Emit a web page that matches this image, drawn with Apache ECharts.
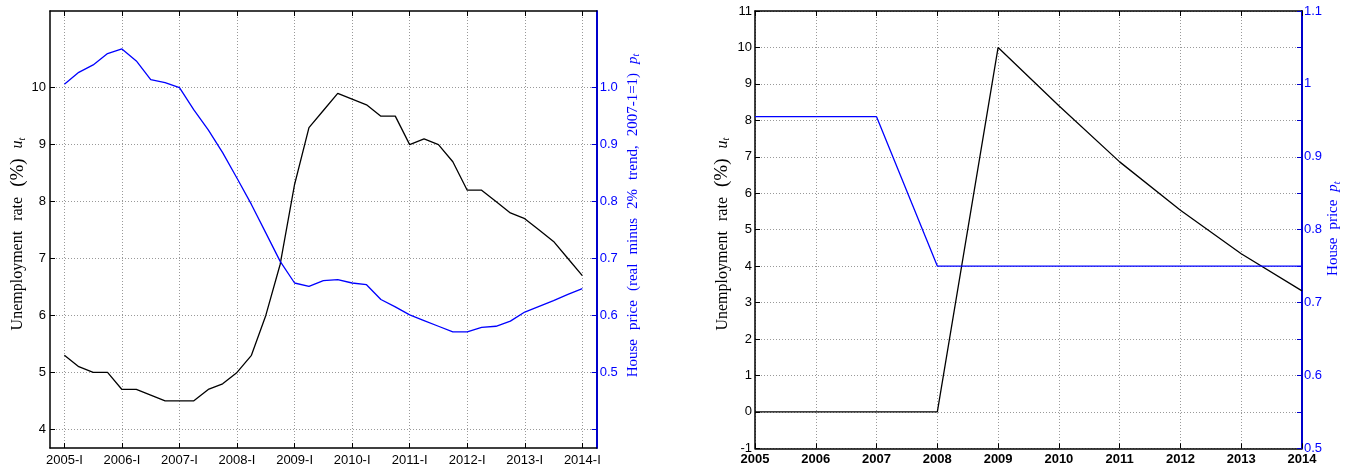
<!DOCTYPE html>
<html><head><meta charset="utf-8">
<script src="https://cdn.jsdelivr.net/npm/echarts@6/dist/echarts.min.js"></script>
<style>html,body{margin:0;padding:0;background:#fff}#c{width:1354px;height:471px}</style>
</head><body><div id="c"></div>
<script>
// ---- Left panel: data (quarterly) ----
const quarters = [
  '2005-I','2005-II','2005-III','2005-IV','2006-I','2006-II','2006-III','2006-IV',
  '2007-I','2007-II','2007-III','2007-IV','2008-I','2008-II','2008-III','2008-IV',
  '2009-I','2009-II','2009-III','2009-IV','2010-I','2010-II','2010-III','2010-IV',
  '2011-I','2011-II','2011-III','2011-IV','2012-I','2012-II','2012-III','2012-IV',
  '2013-I','2013-II','2013-III','2013-IV','2014-I'];
const unemployment = [5.3,5.1,5.0,5.0,4.7,4.7,4.6,4.5,4.5,4.5,4.7,4.8,5.0,5.3,6.0,6.9,
  8.3,9.3,9.6,9.9,9.8,9.7,9.5,9.5,9.0,9.1,9.0,8.7,8.2,8.2,8.0,7.8,7.7,7.5,7.3,7.0,6.7];
const housePrice = [1.006,1.027,1.040,1.060,1.068,1.047,1.014,1.009,1.000,0.961,0.926,0.886,
  0.841,0.795,0.745,0.695,0.657,0.651,0.661,0.663,0.657,0.654,0.628,0.615,0.601,0.591,0.581,
  0.571,0.571,0.579,0.581,0.590,0.606,0.616,0.626,0.637,0.647];
const quarterTickIdx = [0,4,8,12,16,20,24,28,32,36];
const uTicksLeft = [4,5,6,7,8,9,10];
const pTicksLeft = [0.4,0.5,0.6,0.7,0.8,0.9,1.0];
const pLabelsLeft = [0.5,0.6,0.7,0.8,0.9,1.0];

// ---- Right panel: data (annual) ----
const simYears = [2005,2006,2007,2008,2009,2010,2011,2012,2013,2014];
const simUnemployment = [0,0,0,0,10,8.4,6.86,5.53,4.34,3.32];
const simHousePrice = [0.955,0.955,0.955,0.75,0.75,0.75,0.75,0.75,0.75,0.75];

const BLUE = '#0000ff';
const SANS = 'Liberation Sans, Arial, sans-serif';
const SERIF = 'Liberation Serif, Times New Roman, serif';
const gridLine = {show:true, lineStyle:{color:'#999', type:[1,2], width:1}};
const tick = (color, vals) => ({show:true, inside:true, length:5, lineStyle:{color, width:1}, customValues: vals});
const nameRich = (color, fs, spw, pcs) => ({
  sp:{fontFamily:SERIF, fontSize:fs, color, width:spw},
  pc:{fontFamily:SERIF, fontSize:pcs, color},
  i:{fontFamily:SERIF, fontStyle:'italic', fontSize:fs, color},
  s:{fontFamily:SERIF, fontStyle:'italic', fontSize:10, color, padding:[8,0,0,0]}
});
const S = '{sp| }';
const nameStyle = (color, pad, fs, spw, pcs) => ({fontFamily:SERIF, fontSize:fs, color, rich:nameRich(color, fs, spw, pcs), padding:pad});
const uName = 'Unemployment'+S+'rate'+S+'{pc|(%)}'+S+'{i|u}{s|t}';

const option = {
  animation:false,
  backgroundColor:'#fff',
  grid:[
    {left:50, top:11, width:546.7, height:437, containLabel:false},
    {left:755, top:11, width:547, height:437.3, containLabel:false}
  ],
  xAxis:[
    {gridIndex:0, type:'value', min:-1, max:37, position:'bottom',
     axisLine:{onZero:false, lineStyle:{color:'#000', width:1.5}},
     axisTick:tick('#000', quarterTickIdx),
     axisLabel:{customValues:quarterTickIdx, formatter:v=>quarters[v], color:'#000', fontFamily:SANS, fontSize:13, margin:6},
     splitLine:gridLine},
    {gridIndex:0, type:'value', min:-1, max:37, position:'top',
     axisLine:{onZero:false, lineStyle:{color:'#000', width:1.5}},
     axisTick:tick('#000', quarterTickIdx), axisLabel:{show:false}, splitLine:{show:false}},
    {gridIndex:1, type:'value', min:2005, max:2014, interval:1, position:'bottom',
     axisLine:{onZero:false, lineStyle:{color:'#000', width:1.5}},
     axisTick:{show:true, inside:true, length:5, lineStyle:{color:'#000'}},
     axisLabel:{formatter:v=>String(v), color:'#000', fontFamily:SANS, fontSize:13, fontWeight:'bold', margin:5, showMinLabel:true, showMaxLabel:true},
     splitLine:gridLine},
    {gridIndex:1, type:'value', min:2005, max:2014, interval:1, position:'top',
     axisLine:{onZero:false, lineStyle:{color:'#000', width:1.5}},
     axisTick:{show:true, inside:true, length:5, lineStyle:{color:'#000'}},
     axisLabel:{show:false}, splitLine:{show:false}}
  ],
  yAxis:[
    {gridIndex:0, type:'value', min:3.672, max:11.347, position:'left',
     axisLine:{show:true, onZero:false, lineStyle:{color:'#000', width:1.5}},
     axisTick:tick('#000', uTicksLeft),
     axisLabel:{customValues:uTicksLeft, color:'#000', fontFamily:SANS, fontSize:13, margin:4},
     splitLine:gridLine,
     name:uName, nameLocation:'middle', nameRotate:90, nameGap:22,
     nameTextStyle:nameStyle('#000',[0,9,0,0],16,10,19)},
    {gridIndex:0, type:'value', min:0.3672, max:1.1347, position:'right',
     axisLine:{show:true, onZero:false, lineStyle:{color:'#0000cc', width:2}},
     axisTick:tick('#0000cc', pTicksLeft),
     axisLabel:{customValues:pLabelsLeft, formatter:v=>v.toFixed(1), color:BLUE, fontFamily:SANS, fontSize:13, margin:3},
     splitLine:{show:false},
     name:'House'+S+'price'+S+'(real'+S+'minus'+S+'2%'+S+'trend,'+S+'2007-1=1)'+S+'{i|p}{s|t}', nameLocation:'middle', nameRotate:90, nameGap:27,
     nameTextStyle:nameStyle(BLUE,[0,0,0,28],15,9,16)},
    {gridIndex:1, type:'value', min:-1, max:11, interval:1, position:'left',
     axisLine:{show:true, onZero:false, lineStyle:{color:'#000', width:1.5}},
     axisTick:{show:true, inside:true, length:5, lineStyle:{color:'#000'}},
     axisLabel:{color:'#000', fontFamily:SANS, fontSize:13, margin:3, showMinLabel:true, showMaxLabel:true},
     splitLine:gridLine,
     name:uName, nameLocation:'middle', nameRotate:90, nameGap:23,
     nameTextStyle:nameStyle('#000',[0,9,0,0],16,10,19)},
    {gridIndex:1, type:'value', min:0.5, max:1.1, interval:0.05, position:'right',
     axisLine:{show:true, onZero:false, lineStyle:{color:'#0000cc', width:2}},
     axisTick:{show:true, inside:true, length:5, lineStyle:{color:'#0000cc'}},
     axisLabel:{formatter:v=>{const r=Math.round(v*100);return r%10===0?String(r/100):'';}, color:BLUE, fontFamily:SANS, fontSize:13, margin:2, showMinLabel:true, showMaxLabel:true},
     splitLine:{show:false},
     name:'House'+S+'price'+S+'{i|p}{s|t}', nameLocation:'middle', nameRotate:90, nameGap:21.5,
     nameTextStyle:nameStyle(BLUE,[0,0,0,2],15,8,16)}
  ],
  series:[
    {type:'line', xAxisIndex:0, yAxisIndex:0, data:unemployment.map((v,i)=>[i,v]), showSymbol:false,
     lineStyle:{color:'#000', width:1.3}, itemStyle:{color:'#000'}},
    {type:'line', xAxisIndex:0, yAxisIndex:1, data:housePrice.map((v,i)=>[i,v]), showSymbol:false,
     lineStyle:{color:BLUE, width:1.3}, itemStyle:{color:BLUE}},
    {type:'line', xAxisIndex:2, yAxisIndex:2, data:simYears.map((y,i)=>[y,simUnemployment[i]]), showSymbol:false,
     lineStyle:{color:'#000', width:1.3}, itemStyle:{color:'#000'}},
    {type:'line', xAxisIndex:2, yAxisIndex:3, data:simYears.map((y,i)=>[y,simHousePrice[i]]), showSymbol:false,
     lineStyle:{color:BLUE, width:1.3}, itemStyle:{color:BLUE}}
  ]
};
const chart = echarts.init(document.getElementById('c'), null, {renderer:'canvas'});
chart.setOption(option);
</script></body></html>
